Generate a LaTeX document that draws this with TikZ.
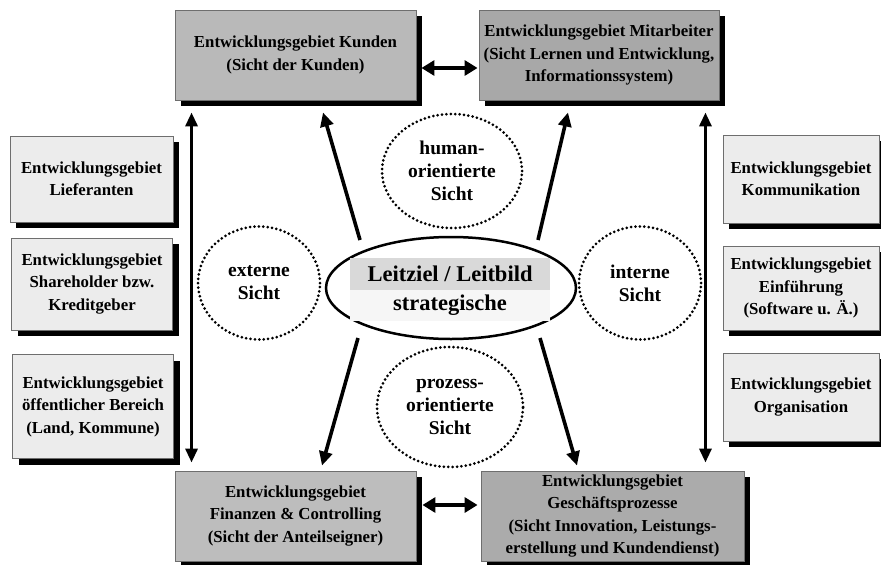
\documentclass[tikz,border=0pt]{standalone}
\usepackage{fontspec}
\setmainfont{Liberation Serif}
\usetikzlibrary{shapes.geometric,shadows,arrows.meta,calc}

\definecolor{fillKunden}{HTML}{B9B9B9}
\definecolor{fillMitarb}{HTML}{A8A8A8}
\definecolor{fillFinanz}{HTML}{BDBDBD}
\definecolor{fillProzess}{HTML}{ABABAB}
\definecolor{fillSide}{HTML}{ECECEC}
\definecolor{boxline}{HTML}{6E6E6E}
\definecolor{bandTop}{HTML}{D9D9D9}
\definecolor{bandBottom}{HTML}{F6F6F6}

\begin{document}
\begin{tikzpicture}[x=1pt,y=-1pt,
  area/.style={draw=boxline, line width=0.9pt, align=center, inner sep=0pt,
    font=\bfseries\fontsize{16.8}{22.5}\selectfont,
    drop shadow={shadow xshift=6pt, shadow yshift=-6pt, fill=black, opacity=1}},
  view/.style={ellipse, draw, line width=3pt, dash pattern=on 0pt off 4.4pt,
    line cap=round, align=center, inner sep=0pt,
    font=\bfseries\fontsize{19.5}{23}\selectfont},
  band/.style={inner sep=0pt, minimum width=200pt, minimum height=31.5pt,
    font=\bfseries\fontsize{22.5}{26}\selectfont},
  push/.style={line width=3.6pt, -{Triangle[length=14pt,width=13pt]}},
  both/.style={line width=4pt, {Triangle[length=13pt,width=15pt]}-{Triangle[length=13pt,width=15pt]}},
  rail/.style={line width=3.2pt, {Triangle[length=14pt,width=12pt]}-{Triangle[length=14pt,width=12pt]}}
]
\useasboundingbox (0,0) rectangle (881,565);

% four main development areas
\node[area, fill=fillKunden, minimum width=241pt, minimum height=90pt] (kunden) at (295.5,55)
  {Entwicklungsgebiet Kunden\\(Sicht der Kunden)};
\node[area, fill=fillMitarb, minimum width=240pt, minimum height=90pt] (mitarb) at (599,55)
  {Entwicklungsgebiet Mitarbeiter\\(Sicht Lernen und Entwicklung,\\Informationssystem)};
\node[area, fill=fillFinanz, minimum width=241pt, minimum height=90pt] (finanz) at (295.5,516)
  {Entwicklungsgebiet\\Finanzen \& Controlling\\(Sicht der Anteilseigner)};
\node[area, fill=fillProzess, minimum width=263pt, minimum height=90pt] (prozess) at (612.5,516)
  {Entwicklungsgebiet\\Geschäftsprozesse\\(Sicht Innovation, Leistungs-\\erstellung und Kundendienst)};

% external areas (left)
\node[area, fill=fillSide, minimum width=163pt, minimum height=86pt] (lief) at (91.5,179)
  {Entwicklungsgebiet\\Lieferanten};
\node[area, fill=fillSide, minimum width=161pt, minimum height=92pt] (share) at (92,284)
  {Entwicklungsgebiet\\Shareholder bzw.\\Kreditgeber};
\node[area, fill=fillSide, minimum width=161pt, minimum height=104pt] (oeff) at (93,406.5)
  {Entwicklungsgebiet\\öffentlicher Bereich\\(Land, Kommune)};

% internal areas (right)
\node[area, fill=fillSide, minimum width=156pt, minimum height=88pt] (komm) at (801,179)
  {Entwicklungsgebiet\\Kommunikation};
\node[area, fill=fillSide, minimum width=156pt, minimum height=84pt] (einf) at (801,288)
  {Entwicklungsgebiet\\Einführung\\(Software u. Ä.)};
\node[area, fill=fillSide, minimum width=156pt, minimum height=88pt] (org) at (801,397)
  {Entwicklungsgebiet\\Organisation};

% central guiding principle
\node[ellipse, draw, line width=2.5pt, minimum width=250pt, minimum height=102pt] (core) at (451,288) {};
\node[band, fill=bandTop] (leit) at (450,274) {Leitziel / Leitbild};
\node[band, fill=bandBottom] (strat) at (450,305.5) {strategische};

% perspectives
\node[view, minimum width=140pt, minimum height=114pt] (human) at (452,171)
  {human-\\orientierte\\Sicht};
\node[view, minimum width=146pt, minimum height=120pt] (prozsicht) at (450,407)
  {prozess-\\orientierte\\Sicht};
\node[view, minimum width=122pt, minimum height=113pt] (extern) at (259,283)
  {externe\\Sicht};
\node[view, minimum width=122pt, minimum height=113pt] (intern) at (640,283)
  {interne\\Sicht};

% arrows from the core to the main areas
\draw[push] ($(core.center)+(-91,-48)$) -- ($(kunden.south)+(27.5,12)$);
\draw[push] ($(core.center)+(87,-48)$) -- ($(mitarb.south)+(-31,12)$);
\draw[push] ($(core.center)+(-93,50)$) -- ($(finanz.north)+(26.5,-5)$);
\draw[push] ($(core.center)+(89,50)$) -- ($(prozess.north)+(-35.5,-5)$);

% links between neighbouring areas
\draw[both] ($(kunden.east)+(5,13)$) -- ($(mitarb.west)+(-1,13)$);
\draw[both] ($(finanz.east)+(6,-11)$) -- ($(prozess.west)+(-3,-11)$);

% side rails
\draw[rail] ($(kunden.south west)+(17,12)$) -- ($(finanz.north west)+(17,-8)$);
\draw[rail] ($(mitarb.south east)+(-14,12)$) -- ($(mitarb.south east |- prozess.north)+(-14,-8)$);
\end{tikzpicture}
\end{document}
